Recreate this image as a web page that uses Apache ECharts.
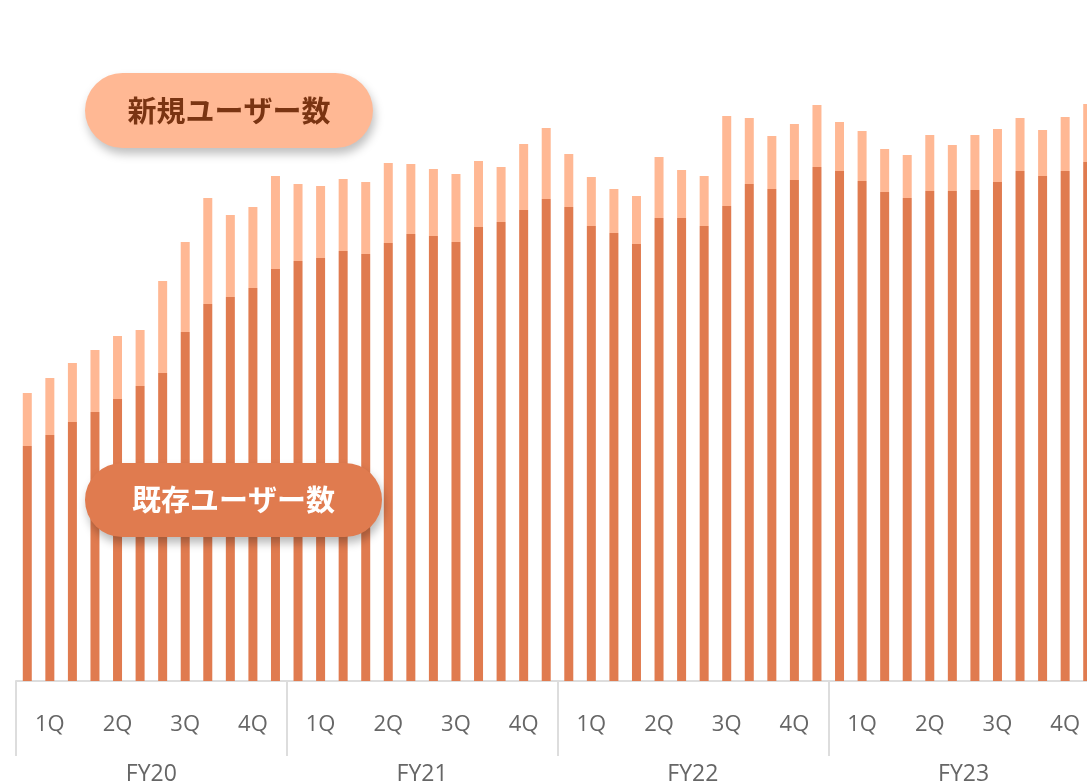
<!DOCTYPE html>
<html>
<head>
<meta charset="utf-8">
<script src="https://cdn.jsdelivr.net/npm/echarts@6/dist/echarts.min.js"></script>
<style>
html,body{margin:0;padding:0;background:#fff;overflow:hidden;width:1087px;height:782px;}
#chart{width:1099px;height:782px;}
</style>
</head>
<body>
<div id="chart"></div>
<script>
// 48 months: FY20..FY23, 12 months each
const fiscalYears = ['FY20', 'FY21', 'FY22', 'FY23'];
const quarterLabels = ['1Q', '2Q', '3Q', '4Q'];
const months = [];
fiscalYears.forEach(fy => { for (let m = 1; m <= 12; m++) months.push(fy + '-' + m); });

// existing users (dark)
const existingUsers = [
  235, 246, 259, 269, 282, 295, 308, 349, 377, 384, 393, 412,
  420, 423, 430, 427, 438, 447, 445, 439, 454, 459, 471, 482,
  474, 455, 448, 437, 463, 463, 455, 475, 497, 492, 501, 514,
  510, 500, 489, 483, 490, 490, 491, 499, 510, 505, 510, 519
];
// new users (light)
const newUsers = [
  53, 57, 59, 62, 63, 56, 92, 90, 106, 82, 81, 93,
  77, 72, 72, 72, 80, 70, 67, 68, 66, 55, 66, 71,
  53, 49, 44, 48, 61, 48, 50, 90, 66, 53, 56, 62,
  49, 50, 43, 43, 56, 46, 55, 53, 53, 46, 54, 58
];

const DARK = '#E07B4F';
const LIGHT = '#FFB894';
const LABEL = '#666666';

const chart = echarts.init(document.getElementById('chart'));
chart.setOption({
  animation: false,
  grid: { left: 16, right: 0, top: 81, bottom: 101, containLabel: false, outerBoundsMode: 'none' },
  xAxis: [
    {
      type: 'category',
      data: months,
      position: 'bottom',
      axisLine: { show: true, lineStyle: { color: '#dddddd', width: 2 } },
      axisTick: {
        show: true,
        interval: (i) => i % 12 === 0,
        length: 75,
        lineStyle: { color: '#dddddd', width: 2 }
      },
      axisLabel: {
        show: true,
        interval: (i) => i % 3 === 1,
        formatter: (v, i) => quarterLabels[Math.floor((i % 12) / 3)],
        margin: 33,
        color: LABEL,
        fontSize: 22,
        fontFamily: '"Open Sans", "Noto Sans CJK JP", sans-serif'
      },
      splitLine: { show: false }
    },
    {
      type: 'category',
      data: fiscalYears,
      position: 'bottom',
      axisLine: { show: false },
      axisTick: { show: false },
      axisLabel: {
        margin: 82,
        color: LABEL,
        fontSize: 23,
        fontFamily: '"Open Sans", "Noto Sans CJK JP", sans-serif'
      },
      splitLine: { show: false }
    }
  ],
  yAxis: {
    type: 'value',
    min: 0,
    max: 600,
    show: false,
    splitLine: { show: false }
  },
  series: [
    {
      name: '既存ユーザー数',
      type: 'bar',
      stack: 'users',
      xAxisIndex: 0,
      barWidth: 9,
      itemStyle: { color: DARK },
      data: existingUsers
    },
    {
      name: '新規ユーザー数',
      type: 'bar',
      stack: 'users',
      xAxisIndex: 0,
      barWidth: 9,
      itemStyle: { color: LIGHT },
      data: newUsers
    }
  ],
  graphic: [
    {
      type: 'group', left: 85, top: 73, z: 100,
      children: [
        { type: 'rect', z: 100, shape: { x: 0, y: 0, width: 288, height: 75, r: 37.5 },
          style: { fill: LIGHT, shadowBlur: 10, shadowOffsetX: 2, shadowOffsetY: 6, shadowColor: 'rgba(0,0,0,0.25)' } },
        { type: 'text', z: 101, x: 144, y: 38,
          style: { text: '新規ユーザー数', fill: '#7A3412', fontSize: 29, fontWeight: 'bold',
                   fontFamily: '"Noto Sans CJK JP", sans-serif', align: 'center', verticalAlign: 'middle' } }
      ]
    },
    {
      type: 'group', left: 85, top: 463, z: 100,
      children: [
        { type: 'rect', z: 100, shape: { x: 0, y: 0, width: 297, height: 74, r: 37 },
          style: { fill: DARK, shadowBlur: 10, shadowOffsetX: 2, shadowOffsetY: 6, shadowColor: 'rgba(0,0,0,0.28)' } },
        { type: 'text', z: 101, x: 148.5, y: 37,
          style: { text: '既存ユーザー数', fill: '#ffffff', fontSize: 29, fontWeight: 'bold',
                   fontFamily: '"Noto Sans CJK JP", sans-serif', align: 'center', verticalAlign: 'middle' } }
      ]
    }
  ]
});
</script>
</body>
</html>
